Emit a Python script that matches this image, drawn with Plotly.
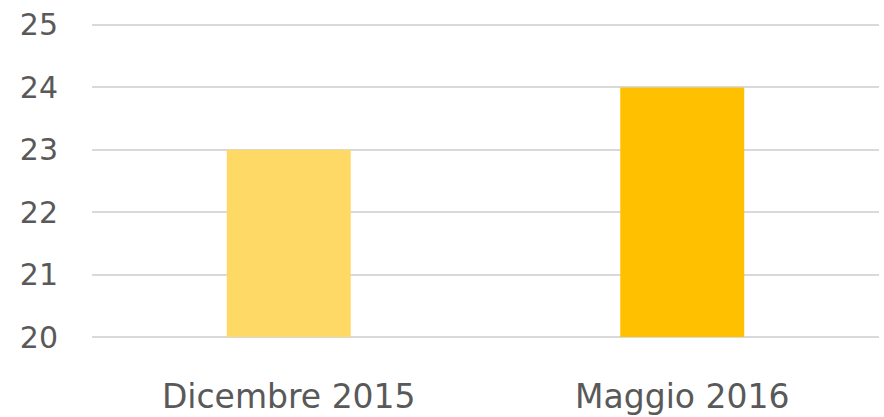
import plotly.graph_objects as go

categories = ["Dicembre 2015", "Maggio 2016"]
values = [23, 24]
bar_colors = ["#FFD966", "#FFC000"]
y_ticks = [20, 21, 22, 23, 24, 25]
y_min, y_max = 20, 25

pad = 2 / 62.6  # small padding so the edge gridlines are drawn

fig = go.Figure(
    go.Bar(
        x=categories,
        y=[v - y_min for v in values],
        base=y_min,
        customdata=values,
        hovertemplate="%{x}: %{customdata}<extra></extra>",
        marker=dict(color=bar_colors, line=dict(width=0)),
        width=0.315,
    )
)

fig.update_layout(
    width=884,
    height=417,
    margin=dict(l=92, r=5, t=22.5, b=77.5, autoexpand=False),
    plot_bgcolor="white",
    paper_bgcolor="white",
    showlegend=False,
    font=dict(family="DejaVu Sans", color="#595959"),
)
fig.update_xaxes(
    showgrid=False,
    showline=False,
    ticks="",
    tickfont=dict(size=33, color="#595959"),
    ticklabelstandoff=35,
    automargin=False,
)
fig.update_yaxes(
    range=[y_min - pad, y_max + pad],
    tickvals=y_ticks,
    showgrid=True,
    gridcolor="#D9D9D9",
    gridwidth=1.5,
    zeroline=False,
    showline=False,
    ticks="",
    tickfont=dict(size=30, color="#595959"),
    ticklabelstandoff=33,
    automargin=False,
)

fig.write_html(
    "out.html",
    config={"displayModeBar": False},
    post_script="document.body.style.margin='0px';document.body.style.overflow='hidden';",
)
